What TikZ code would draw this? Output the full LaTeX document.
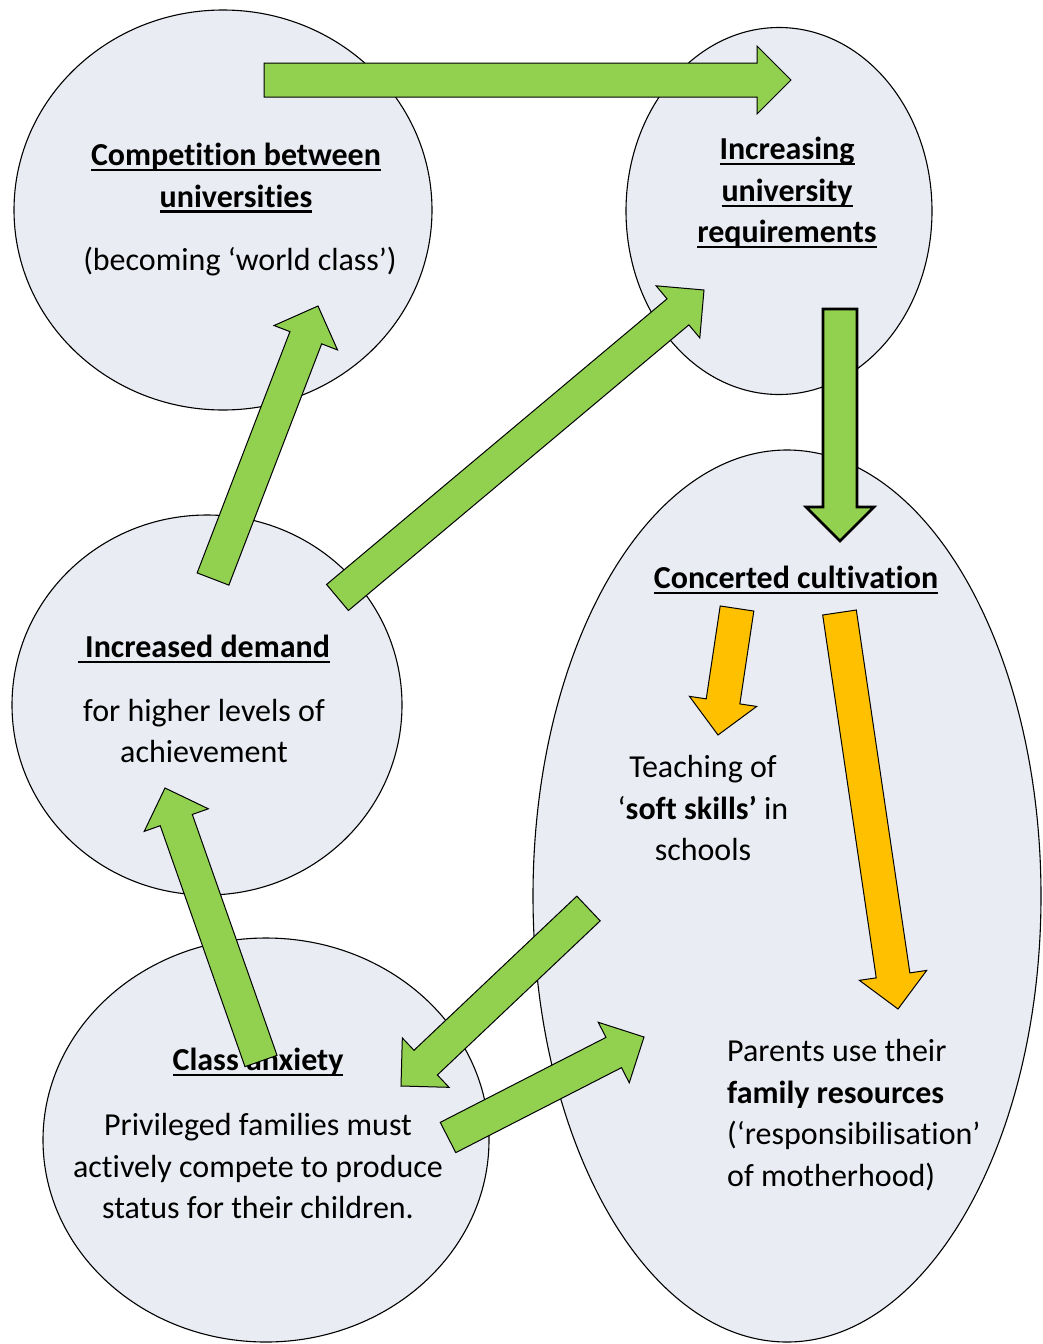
\documentclass[tikz,border=0pt]{standalone}
\usepackage{fontspec}
\setmainfont{Carlito}[Ligatures={NoCommon,NoContextual}, RawFeature={-calt}]
\usetikzlibrary{calc,shapes.geometric}

\definecolor{bubblefill}{HTML}{E9ECF2}
\definecolor{arrowgreen}{HTML}{92D050}
\definecolor{arrowyellow}{HTML}{FFC000}

% thick underline used for the headings
\newcommand\headul[1]{\setbox0\hbox{#1}\rlap{\rule[-5.5pt]{\wd0}{2.4pt}}\box0}

% block arrow from #2 (tail centre) to #3 (tip)
\newcommand\blockarrow[3][]{%
  \path ($(#3)!34pt!(#2)$) coordinate (ba-h);
  \draw[#1] ($(#2)!17pt!90:(#3)$) -- ($(ba-h)!17pt!90:(#3)$) -- ($(ba-h)!34pt!90:(#3)$) -- (#3)
    -- ($(ba-h)!34pt!-90:(#3)$) -- ($(ba-h)!17pt!-90:(#3)$) -- ($(#2)!17pt!-90:(#3)$) -- cycle;
}

\tikzset{
  bubble/.style={ellipse, draw=black, line width=1.1pt, fill=bubblefill, inner sep=0pt},
  txt/.style={font=\fontsize{32}{41.5}\selectfont, inner sep=0pt, align=center},
  headtxt/.style={txt, font=\fontsize{32}{41.5}\selectfont\bfseries},
  greenarrow/.style={fill=arrowgreen, draw=black, line width=1pt, line join=miter},
  greenthick/.style={fill=arrowgreen, draw=black, line width=2.6pt, line join=miter},
  yellowarrow/.style={fill=arrowyellow, draw=black, line width=1pt, line join=miter},
}

\begin{document}
\begin{tikzpicture}[x=1pt, y=-1pt]
\useasboundingbox (0,0) rectangle (1042,1344);
\clip (0,0) rectangle (1042,1344);

% bubbles
\node[bubble, minimum width=418pt, minimum height=400pt] (comp) at (223,210) {};
\node[bubble, minimum width=306pt, minimum height=367pt] (req) at (779,211) {};
\node[bubble, minimum width=390pt, minimum height=380pt] (demand) at (207,705) {};
\node[bubble, minimum width=446pt, minimum height=404pt] (anx) at (266,1140) {};
\node[bubble, minimum width=508pt, minimum height=892pt] (cult) at (787,896) {};

% texts
\node[headtxt] (compHead) at (236,178)
  {\headul{Competition between}\\\headul{universities}};
\node[txt] (compBody) at (240,262) {(becoming ‘world class’)};

\node[headtxt] (reqHead) at (787,193)
  {\headul{Increasing}\\\headul{university}\\\headul{requirements}};

\node[headtxt] (cultHead) at (796,580) {\headul{Concerted cultivation}};
\node[txt] (teach) at (703,808) {Teaching of\\‘\textbf{soft skills’} in\\schools};
\node[txt, align=left, anchor=west] (parents) at (727,1115)
  {Parents use their\\\textbf{family resources}\\(‘responsibilisation’\\of motherhood)};

\node[headtxt] (demandHead) at (204,649) {\headul{\ Increased demand}};
\node[txt] (demandBody) at (204,731) {for higher levels of\\achievement};

\node[headtxt] (anxHead) at (258,1062) {\headul{Class anxiety}};
\node[txt] (anxBody) at (258,1166)
  {Privileged families must\\actively compete to produce\\status for their children.};

% arrow end points
\coordinate (a1s) at (264,80);    \coordinate (a1e) at (791,80);
\coordinate (a2s) at (840,309);   \coordinate (a2e) at (840,541);
\coordinate (a3s) at (213,579);   \coordinate (a3e) at (318,306);
\coordinate (a4s) at (337.5,597.5); \coordinate (a4e) at (704,290);
\coordinate (a5s) at (588.5,908.5); \coordinate (a5e) at (401,1086);
\coordinate (a6s) at (448,1137.5); \coordinate (a6e) at (644,1037);
\coordinate (a7s) at (261,1061);  \coordinate (a7e) at (165,788);
\coordinate (y1s) at (737,608.5); \coordinate (y1e) at (718,735);
\coordinate (y2s) at (839.5,612.5); \coordinate (y2e) at (898,1009);

% arrows
\blockarrow[greenarrow]{a1s}{a1e}
\blockarrow[greenthick]{a2s}{a2e}
\blockarrow[greenarrow]{a3s}{a3e}
\blockarrow[greenarrow]{a4s}{a4e}
\blockarrow[greenarrow]{a5s}{a5e}
\blockarrow[greenarrow]{a6s}{a6e}
\blockarrow[greenarrow]{a7s}{a7e}
\blockarrow[yellowarrow]{y1s}{y1e}
\blockarrow[yellowarrow]{y2s}{y2e}
\end{tikzpicture}
\end{document}
